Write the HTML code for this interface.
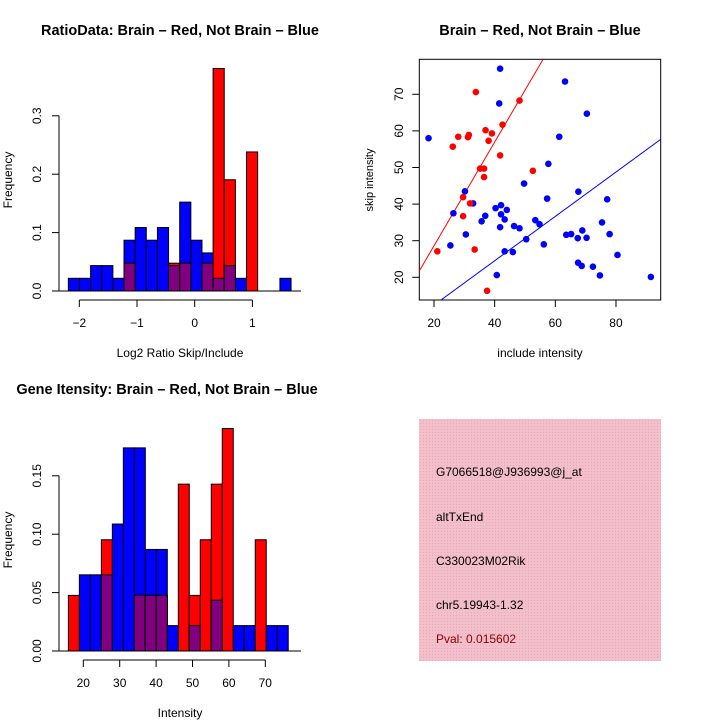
<!DOCTYPE html>
<html><head><meta charset="utf-8"><style>
body{margin:0;background:#fff}
svg{display:block;font-family:"Liberation Sans",sans-serif}
</style></head><body>
<svg id="c" width="720" height="720" xmlns="http://www.w3.org/2000/svg">
<defs>
<pattern id="hatch" width="3" height="3" patternUnits="userSpaceOnUse">
<rect width="3" height="3" fill="#f2bfca"/><rect width="1" height="1" fill="#e8a8b8"/>
</pattern>
</defs>
<text x="180" y="35" text-anchor="middle" font-size="14.5" font-weight="bold">RatioData: Brain – Red, Not Brain – Blue</text>
<text x="540" y="35" text-anchor="middle" font-size="14.5" font-weight="bold">Brain – Red, Not Brain – Blue</text>
<text x="167" y="394" text-anchor="middle" font-size="14.5" font-weight="bold">Gene Itensity: Brain – Red, Not Brain – Blue</text>
<text x="180" y="357" text-anchor="middle" font-size="12">Log2 Ratio Skip/Include</text>
<text x="180" y="717" text-anchor="middle" font-size="12">Intensity</text>
<text x="540" y="357" text-anchor="middle" font-size="12">include intensity</text>
<text transform="translate(12,180) rotate(-90)" text-anchor="middle" font-size="12">Frequency</text>
<text transform="translate(12,540) rotate(-90)" text-anchor="middle" font-size="12">Frequency</text>
<text transform="translate(373,180) rotate(-90)" text-anchor="middle" font-size="11">skip intensity</text>
<g id="g1"></g><g id="g2"></g><g id="g3"></g>
<rect x="419" y="419" width="242" height="242" fill="url(#hatch)"/>
<g font-size="12">
<text x="436" y="476">G7066518@J936993@j_at</text>
<text x="436" y="521">altTxEnd</text>
<text x="436" y="565">C330023M02Rik</text>
<text x="436" y="609">chr5.19943-1.32</text>
<text x="436" y="643" fill="#8b0000">Pval: 0.015602</text>
</g>
</svg>
<script>
// Ratio histogram data
const ratioBlue=[1,1,2,2,1,4,5,4,5,2,7,4,3,1,2,1,0,0,0,1];
const ratioRed=[0,0,0,0,0,1,0,0,0,1,1,0,1,8,4,0,5,0,0,0];
const ratioXTicks=[-2,-1,0,1];
const ratioYTicks=[0,0.1,0.2,0.3];
// Intensity histogram data
const intBlue=[0,3,3,3,5,8,8,4,4,1,0,1,0,2,0,1,1,0,1,1];
const intRed=[1,0,0,2,0,0,1,1,1,0,3,1,2,3,4,0,0,2,0,0];
const intXTicks=[20,30,40,50,60,70];
const intYTicks=[0,0.05,0.1,0.15];
// Scatter data
const redX=[21.1,26.2,28.0,31.2,31.5,29.6,29.6,31.9,33.4,33.8,37.0,38.0,39.1,35.2,36.5,36.5,41.8,42.6,48.2,52.6,37.5];
const redY=[27.1,55.7,58.4,58.3,58.9,41.9,36.7,40.2,27.6,70.6,60.2,57.3,59.3,49.7,49.7,47.4,53.3,61.7,68.3,49.1,16.3];
const blueX=[18.2,30.2,26.4,32.9,30.5,25.4,35.7,36.9,41.8,41.5,40.3,42.1,42.1,44.0,43.3,41.8,43.3,46.0,46.4,48.2,49.7,50.4,40.7,53.4,54.8,56.2,57.3,57.7,61.3,63.2,63.6,65.2,67.4,67.6,68.9,70.3,70.4,67.5,68.7,72.4,74.7,75.4,77.1,77.9,80.5,91.5];
const blueY=[58.0,43.5,37.5,40.2,31.7,28.7,35.3,36.8,77.0,67.5,38.9,39.7,37.2,38.4,35.8,33.7,27.1,26.9,34.0,33.4,45.6,30.4,20.6,35.6,34.5,29.0,41.5,51.0,58.4,73.5,31.6,31.8,30.7,43.4,32.8,30.8,64.7,24.0,23.1,22.9,20.5,35.0,41.3,31.8,26.1,20.1];
const redFit=[0.26,1.417];
const blueFit=[0.28,0.606];
const scatterXTicks=[20,40,60,80];
const scatterYTicks=[20,30,40,50,60,70];

const NS='http://www.w3.org/2000/svg';
function mk(parent,tag,attrs){const e=document.createElementNS(NS,tag);for(const k in attrs)e.setAttribute(k,attrs[k]);parent.appendChild(e);return e;}

function hist(g,blue,red,nb,nr,x0,bw,sx,sy,xTicks,yTicks,axY,yFmt,pref){
  const n=blue.length;
  for(let i=0;i<n;i++){
    const fb=blue[i]/nb, fr=red[i]/nr;
    const xa=sx(x0+i*bw), xb=sx(x0+(i+1)*bw);
    if(fb>0){const r=mk(g,'rect',{x:xa,y:sy(fb),width:xb-xa,height:sy(0)-sy(fb),fill:'#0000ff',stroke:'#000','stroke-width':1});
      
      }
    if(fr>0){const r=mk(g,'rect',{x:xa,y:sy(fr),width:xb-xa,height:sy(0)-sy(fr),fill:'#ff0000',stroke:'#000','stroke-width':1});
      
      }
    const m=Math.min(fb,fr);
    if(m>0){const r=mk(g,'rect',{x:xa,y:sy(m),width:xb-xa,height:sy(0)-sy(m),fill:'#800080',stroke:'#000','stroke-width':1});
      
      }
  }
  mk(g,'line',{x1:52,x2:301,y1:sy(0),y2:sy(0),stroke:'#000'});
  const xa=mk(g,'g',{});
  
  
  mk(xa,'line',{x1:sx(xTicks[0]),x2:sx(xTicks[xTicks.length-1]),y1:axY,y2:axY,stroke:'#000'});
  xTicks.forEach(t=>{mk(xa,'line',{x1:sx(t),x2:sx(t),y1:axY,y2:axY+7,stroke:'#000'});
    const tx=mk(xa,'text',{x:sx(t),y:axY+27,'text-anchor':'middle','font-size':12});tx.textContent=String(t).replace('-','\u2212');});
  const ya=mk(g,'g',{});
  
  
  mk(ya,'line',{x1:59,x2:59,y1:sy(yTicks[0]),y2:sy(yTicks[yTicks.length-1]),stroke:'#000'});
  yTicks.forEach(t=>{mk(ya,'line',{x1:52,x2:59,y1:sy(t),y2:sy(t),stroke:'#000'});
    const tx=mk(ya,'text',{transform:`translate(41,${sy(t)}) rotate(-90)`,'text-anchor':'middle','font-size':12});tx.textContent=yFmt(t);});
}
{
 const sx=v=>79.3+(v+2)*57.7, sy=v=>291-v*584;
 hist(document.getElementById('g1'),ratioBlue,ratioRed,46,21,-2.19,0.193,sx,sy,ratioXTicks,ratioYTicks,300,t=>t.toFixed(1),'ratio');
}
{
 const sx=v=>83.3+(v-20)*3.64, sy=v=>651-v*1168;
 hist(document.getElementById('g2'),intBlue,intRed,46,21,15.9,3.02,sx,sy,intXTicks,intYTicks,660,t=>t.toFixed(2),'intensity');
}
{
 const g=document.getElementById('g3');
 const L=419.3,R=660.7,T=59.3,B=300;
 const sx=v=>434+(v-20)*3.033, sy=v=>277.3-(v-20)*3.66;
 const xmin=15.15,xmax=94.7,ymin=13.8,ymax=79.6;
 mk(g,'rect',{x:L,y:T,width:R-L,height:B-T,fill:'none',stroke:'#000'});
 function fit(f,col,nm){
   let pts=[];const N=400;
   for(let i=0;i<=N;i++){const x=xmin+(xmax-xmin)*i/N;const y=f[0]+f[1]*x;if(y>=ymin&&y<=ymax)pts.push(sx(x)+','+sy(y));}
   const l=mk(g,'polyline',{points:pts.join(' '),fill:'none',stroke:col,'stroke-width':1});
   
   
 }
 fit(redFit,'#ff0000','red-fit-line');
 fit(blueFit,'#0000ff','blue-fit-line');
 blueX.forEach((x,i)=>{const c=mk(g,'circle',{cx:sx(x),cy:sy(blueY[i]),r:3.3,fill:'#0000ff'});
   
   });
 redX.forEach((x,i)=>{const c=mk(g,'circle',{cx:sx(x),cy:sy(redY[i]),r:3.3,fill:'#ff0000'});
   
   });
 scatterXTicks.forEach(t=>{mk(g,'line',{x1:sx(t),x2:sx(t),y1:B,y2:B+7,stroke:'#000'});
   const tx=mk(g,'text',{x:sx(t),y:B+27,'text-anchor':'middle','font-size':12});tx.textContent=t;});
 scatterYTicks.forEach(t=>{mk(g,'line',{x1:L-7,x2:L,y1:sy(t),y2:sy(t),stroke:'#000'});
   const tx=mk(g,'text',{transform:`translate(403,${sy(t)}) rotate(-90)`,'text-anchor':'middle','font-size':12});tx.textContent=t;});
}
</script>
</body></html>
